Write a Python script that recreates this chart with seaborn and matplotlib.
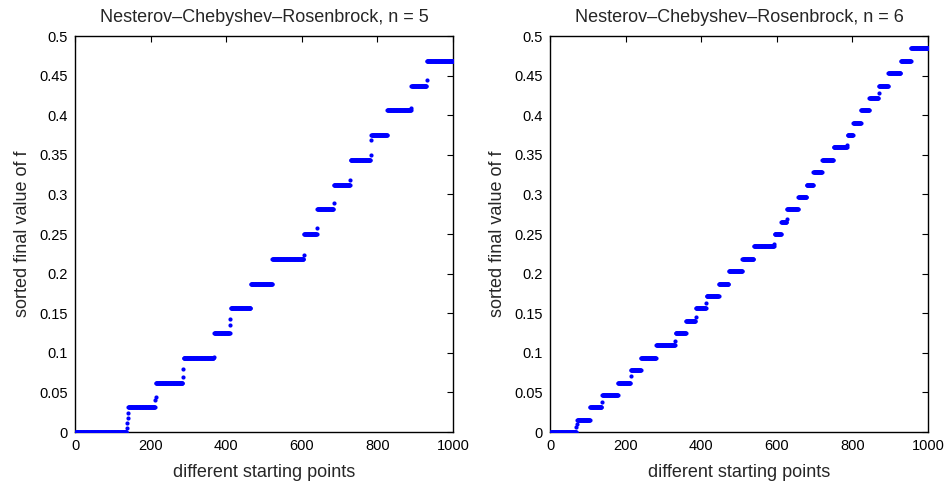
import numpy as np
import pandas as pd
import matplotlib
matplotlib.use("Agg")
import matplotlib.pyplot as plt
import seaborn as sns

# ---- data ----
titles = ["Nesterov\u2013Chebyshev\u2013Rosenbrock, n = 5",
          "Nesterov\u2013Chebyshev\u2013Rosenbrock, n = 6"]

# n = 5: plateau levels are k/32, with number of points on each plateau
levels_n5 = [k / 32 for k in range(16)]
counts_n5 = [136, 71, 71, 80, 42, 53, 57, 83, 34, 43, 43, 53, 42, 63, 40, 70]
strays_n5 = [0.005, 0.012, 0.018, 0.024, 0.040, 0.044, 0.070, 0.080, 0.095,
             0.135, 0.143, 0.2235, 0.257, 0.289, 0.318, 0.350, 0.369,
             0.4087, 0.444]

# n = 6: plateau levels are k/64
levels_n6 = [k / 64 for k in range(32)]
counts_n6 = [69, 34, 31, 42, 33, 27, 40, 50, 28, 25, 27, 33, 26, 36, 30, 54,
             18, 14, 30, 22, 18, 23, 30, 36, 15, 21, 22, 24, 25, 33, 27, 46]
strays_n6 = [0.006, 0.010, 0.038, 0.0707, 0.1153, 0.1456, 0.1625, 0.238,
             0.2685, 0.362, 0.4276]

xticks = [0, 200, 400, 600, 800, 1000]
yticks = [0, 0.05, 0.1, 0.15, 0.2, 0.25, 0.3, 0.35, 0.4, 0.45, 0.5]
ytick_labels = ["0", "0.05", "0.1", "0.15", "0.2", "0.25", "0.3", "0.35",
                "0.4", "0.45", "0.5"]


def build(levels, counts, strays):
    vals = np.sort(np.concatenate([np.repeat(levels, counts), strays]))
    return pd.DataFrame({"idx": np.arange(1, len(vals) + 1), "f": vals})


frames = [build(levels_n5, counts_n5, strays_n5),
          build(levels_n6, counts_n6, strays_n6)]

# ---- plotting ----
sns.set_style("white")
plt.rcParams["font.family"] = ["Liberation Sans", "DejaVu Sans"]

fig = plt.figure(figsize=(9.46, 4.84), dpi=100)
boxes = [[0.0793, 0.1074, 0.3996, 0.8182],
         [0.5814, 0.1074, 0.3996, 0.8182]]

for box, df, title in zip(boxes, frames, titles):
    ax = fig.add_axes(box)
    sns.scatterplot(data=df, x="idx", y="f", ax=ax, color="#0000ff",
                    s=9, linewidth=0, marker="o", legend=False, zorder=3)
    ax.set_xlim(0, 1000)
    ax.set_ylim(0, 0.5)
    ax.set_xticks(xticks)
    ax.set_xticklabels([str(t) for t in xticks])
    ax.set_yticks(yticks)
    ax.set_yticklabels(ytick_labels)
    ax.tick_params(direction="in", length=4, width=0.8, top=True,
                   right=True, labelsize=10.5, colors="black", pad=5)
    for sp in ax.spines.values():
        sp.set_visible(True)
        sp.set_color("black")
        sp.set_linewidth(1.0)
    ax.set_xlabel("different starting points", fontsize=13, labelpad=8)
    ax.set_ylabel("sorted final value of f", fontsize=13, labelpad=6)
    ax.set_title(title, fontsize=13, pad=10)
    ax.grid(False)

fig.savefig("out.png", dpi=100, facecolor="white")
